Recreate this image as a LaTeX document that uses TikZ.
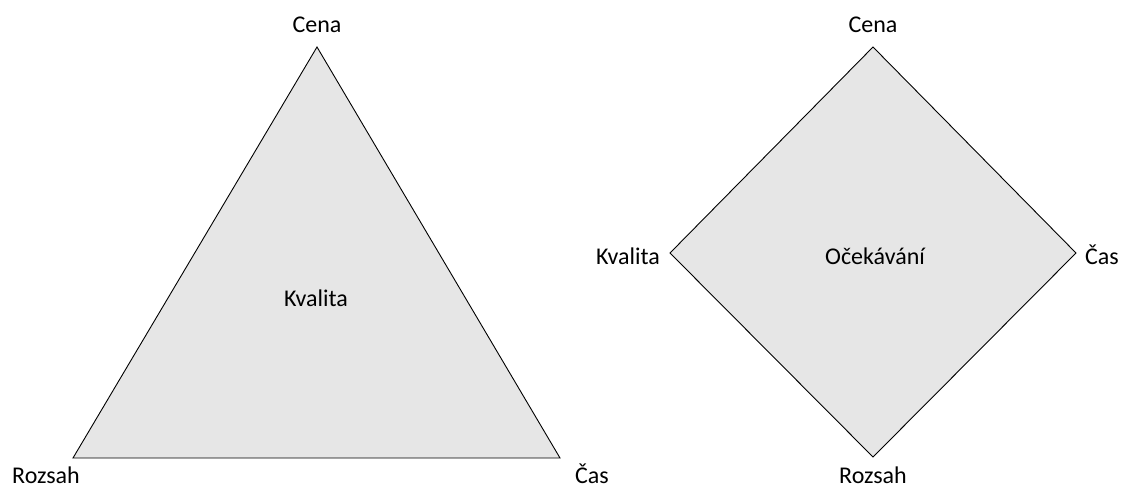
\documentclass[tikz,border=0pt]{standalone}
\usepackage{fontspec}
\setmainfont{Carlito}
\definecolor{shapefill}{HTML}{E6E6E6}
\tikzset{
  areashape/.style={draw=black, fill=shapefill, line width=0.9pt, line join=miter},
  lbl/.style={inner sep=0pt, font=\fontsize{24}{28}\selectfont},
  baselbl/.style={lbl, anchor=base}
}
\begin{document}
\begin{tikzpicture}[x=1pt,y=-1pt]
\useasboundingbox (0,0) rectangle (1123,487);
% triangle
\coordinate (tTop) at (317,47);
\coordinate (tLeft) at (73,458);
\coordinate (tRight) at (560,458);
\draw[areashape] (tTop) -- (tRight) -- (tLeft) -- cycle;
\node[baselbl] (tCena) at (317,33) {Cena};
\node[baselbl] (tRozsah) at (46,483) {Rozsah};
\node[baselbl] (tCas) at (592,483) {Čas};
\node[lbl] (tKvalita) at (316,298) {Kvalita};
% diamond
\coordinate (dTop) at (873,47);
\coordinate (dLeft) at (670,253);
\coordinate (dRight) at (1076,253);
\coordinate (dBottom) at (873,457);
\draw[areashape] (dTop) -- (dRight) -- (dBottom) -- (dLeft) -- cycle;
\node[baselbl] (dCena) at (873,33) {Cena};
\node[baselbl] (dKvalita) at (628,264) {Kvalita};
\node[baselbl] (dCas) at (1102,264) {Čas};
\node[baselbl] (dRozsah) at (873,483) {Rozsah};
\node[baselbl] (dOcek) at (875,264) {Očekávání};
\end{tikzpicture}
\end{document}
